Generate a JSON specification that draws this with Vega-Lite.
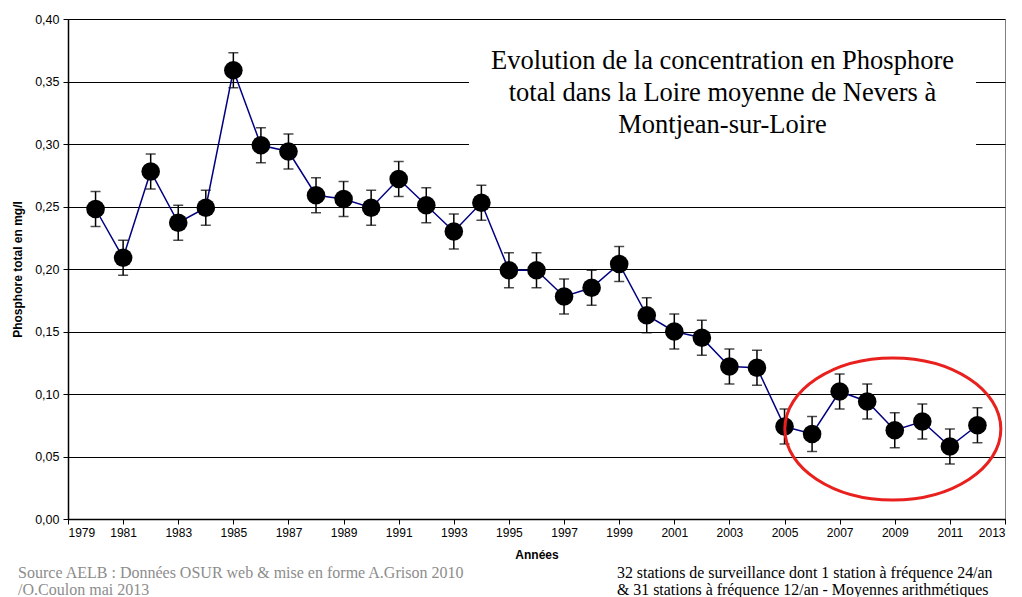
{
  "$schema": "https://vega.github.io/schema/vega-lite/v6.json",
  "width": 937,
  "height": 500,
  "autosize": {"type": "none"},
  "padding": {"left": 68, "top": 19, "right": 17, "bottom": 78},
  "background": "white",
  "config": {"view": {"stroke": "#808080", "strokeWidth": 1}, "font": "Liberation Sans"},
  "data": {"values": [
    {"annee": 1980, "p": 0.248, "lo": 0.234, "hi": 0.262},
    {"annee": 1981, "p": 0.209, "lo": 0.195, "hi": 0.223},
    {"annee": 1982, "p": 0.278, "lo": 0.264, "hi": 0.292},
    {"annee": 1983, "p": 0.237, "lo": 0.223, "hi": 0.251},
    {"annee": 1984, "p": 0.249, "lo": 0.235, "hi": 0.263},
    {"annee": 1985, "p": 0.359, "lo": 0.345, "hi": 0.373},
    {"annee": 1986, "p": 0.299, "lo": 0.285, "hi": 0.313},
    {"annee": 1987, "p": 0.294, "lo": 0.280, "hi": 0.308},
    {"annee": 1988, "p": 0.259, "lo": 0.245, "hi": 0.273},
    {"annee": 1989, "p": 0.256, "lo": 0.242, "hi": 0.270},
    {"annee": 1990, "p": 0.249, "lo": 0.235, "hi": 0.263},
    {"annee": 1991, "p": 0.272, "lo": 0.258, "hi": 0.286},
    {"annee": 1992, "p": 0.251, "lo": 0.237, "hi": 0.265},
    {"annee": 1993, "p": 0.230, "lo": 0.216, "hi": 0.244},
    {"annee": 1994, "p": 0.253, "lo": 0.239, "hi": 0.267},
    {"annee": 1995, "p": 0.199, "lo": 0.185, "hi": 0.213},
    {"annee": 1996, "p": 0.199, "lo": 0.185, "hi": 0.213},
    {"annee": 1997, "p": 0.178, "lo": 0.164, "hi": 0.192},
    {"annee": 1998, "p": 0.185, "lo": 0.171, "hi": 0.199},
    {"annee": 1999, "p": 0.204, "lo": 0.190, "hi": 0.218},
    {"annee": 2000, "p": 0.163, "lo": 0.149, "hi": 0.177},
    {"annee": 2001, "p": 0.150, "lo": 0.136, "hi": 0.164},
    {"annee": 2002, "p": 0.145, "lo": 0.131, "hi": 0.159},
    {"annee": 2003, "p": 0.122, "lo": 0.108, "hi": 0.136},
    {"annee": 2004, "p": 0.121, "lo": 0.107, "hi": 0.135},
    {"annee": 2005, "p": 0.074, "lo": 0.060, "hi": 0.088},
    {"annee": 2006, "p": 0.068, "lo": 0.054, "hi": 0.082},
    {"annee": 2007, "p": 0.102, "lo": 0.088, "hi": 0.116},
    {"annee": 2008, "p": 0.094, "lo": 0.080, "hi": 0.108},
    {"annee": 2009, "p": 0.071, "lo": 0.057, "hi": 0.085},
    {"annee": 2010, "p": 0.078, "lo": 0.064, "hi": 0.092},
    {"annee": 2011, "p": 0.058, "lo": 0.044, "hi": 0.072},
    {"annee": 2012, "p": 0.075, "lo": 0.061, "hi": 0.089}
  ]},
  "layer": [
    {
      "data": {"values": [{}]},
      "mark": {"type": "rect", "color": "white", "fill": "white", "strokeWidth": 0},
      "encoding": {
        "x": {"datum": 1993.55, "type": "quantitative"},
        "x2": {"datum": 2011.95},
        "y": {"datum": 0.385, "type": "quantitative"},
        "y2": {"datum": 0.29}
      }
    },
    {
      "mark": {"type": "errorbar", "ticks": {"size": 10, "thickness": 1.5, "color": "black"}, "rule": {"strokeWidth": 1.5, "color": "black"}},
      "encoding": {
        "x": {
          "field": "annee", "type": "quantitative",
          "scale": {"domain": [1979, 2013], "nice": false, "zero": false},
          "axis": {
            "title": "Années",
            "values": [1979, 1981, 1983, 1985, 1987, 1989, 1991, 1993, 1995, 1997, 1999, 2001, 2003, 2005, 2007, 2009, 2011, 2013],
            "format": "d", "grid": false,
            "domainColor": "black", "domainWidth": 1.5, "tickColor": "black", "tickSize": 5,
            "labelFontSize": 12, "labelColor": "black", "labelPadding": 3, "labelFont": "Liberation Sans",
            "titleFontSize": 12, "titleFontWeight": "bold", "titleColor": "black", "titlePadding": 11, "titleFont": "Liberation Sans"
          }
        },
        "y": {
          "field": "lo", "type": "quantitative",
          "scale": {"domain": [0, 0.4], "nice": false},
          "axis": {
            "title": "Phosphore total en mg/l",
            "values": [0, 0.05, 0.1, 0.15, 0.2, 0.25, 0.3, 0.35, 0.4],
            "labelExpr": "replace(format(datum.value, '.2f'), '.', ',')",
            "grid": true, "gridColor": "black", "gridWidth": 1,
            "domainColor": "black", "domainWidth": 1.5, "tickColor": "black", "tickSize": 5,
            "labelFontSize": 12.5, "labelColor": "black", "labelPadding": 4, "labelFont": "Liberation Sans",
            "titleFontSize": 12, "titleFontWeight": "bold", "titleColor": "black", "titlePadding": 10, "titleFont": "Liberation Sans"
          }
        },
        "y2": {"field": "hi"}
      }
    },
    {
      "mark": {"type": "line", "color": "#000080", "strokeWidth": 1.5},
      "encoding": {
        "x": {"field": "annee", "type": "quantitative"},
        "y": {"field": "p", "type": "quantitative"}
      }
    },
    {
      "mark": {"type": "circle", "size": 346, "color": "black", "opacity": 1},
      "encoding": {
        "x": {"field": "annee", "type": "quantitative"},
        "y": {"field": "p", "type": "quantitative"}
      }
    },
    {
      "data": {"values": [{}]},
      "mark": {
        "type": "point",
        "shape": "M1,0 C1,0.363 0.552,0.657 0,0.657 C-0.552,0.657 -1,0.363 -1,0 C-1,-0.363 -0.552,-0.657 0,-0.657 C0.552,-0.657 1,-0.363 1,0 Z",
        "size": 46656, "filled": false, "stroke": "#e8201e", "strokeWidth": 3, "opacity": 1
      },
      "encoding": {
        "x": {"datum": 2008.93, "type": "quantitative"},
        "y": {"datum": 0.072, "type": "quantitative"}
      }
    },
    {
      "data": {"values": [{}]},
      "mark": {
        "type": "text",
        "text": ["Evolution de la concentration en Phosphore", "total dans la Loire moyenne de Nevers à", "Montjean-sur-Loire"],
        "font": "Liberation Serif", "fontSize": 26.5, "lineHeight": 32, "align": "center", "baseline": "middle", "color": "black"
      },
      "encoding": {
        "x": {"datum": 2002.75, "type": "quantitative"},
        "y": {"datum": 0.3664, "type": "quantitative"}
      }
    },
    {
      "data": {"values": [{}]},
      "mark": {
        "type": "text",
        "text": ["Source AELB : Données OSUR web & mise en forme A.Grison 2010", "/O.Coulon mai 2013"],
        "font": "Liberation Serif", "fontSize": 16, "lineHeight": 17, "align": "left", "baseline": "middle", "color": "#8c8c8c"
      },
      "encoding": {
        "x": {"datum": 1977.19, "type": "quantitative"},
        "y": {"datum": -0.0428, "type": "quantitative"}
      }
    },
    {
      "data": {"values": [{}]},
      "mark": {
        "type": "text",
        "text": ["32 stations de surveillance dont 1 station à fréquence 24/an", "& 31 stations à fréquence 12/an - Moyennes arithmétiques"],
        "font": "Liberation Serif", "fontSize": 15.9, "lineHeight": 17, "align": "left", "baseline": "middle", "color": "black"
      },
      "encoding": {
        "x": {"datum": 1998.92, "type": "quantitative"},
        "y": {"datum": -0.0428, "type": "quantitative"}
      }
    }
  ]
}
